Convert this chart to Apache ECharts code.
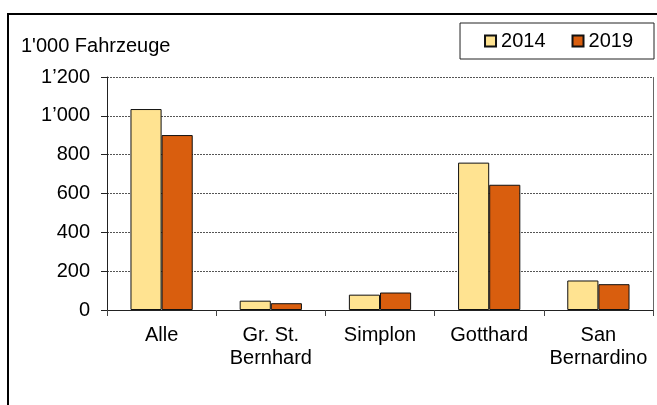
<!DOCTYPE html>
<html>
<head>
<meta charset="utf-8">
<script src="https://cdn.jsdelivr.net/npm/echarts@6/dist/echarts.min.js"></script>
<style>
  html, body { margin: 0; padding: 0; background: #fff; }
  #chart { width: 657px; height: 405px; }
</style>
</head>
<body>
<div id="chart"></div>
<script>
// Alpenübergänge, Fahrzeuge in Tausend
const passes = ['Alle', 'Gr. St.\nBernhard', 'Simplon', 'Gotthard', 'San\nBernardino'];
const years = ['2014', '2019'];
const values2014 = [1035, 48, 79, 759, 152];
const values2019 = [901, 35, 90, 645, 133];

const FONT = '"Liberation Sans", Arial, sans-serif';
const COLORS = ['#FFE391', '#D95E0E'];

const chart = echarts.init(document.getElementById('chart'));

// Tausendertrennzeichen wie im Original: 1’000
function thousands(v) {
  return String(v).replace(/\B(?=(\d{3})+(?!\d))/g, '\u2019');
}

chart.setOption({
  animation: false,
  title: {
    text: "1'000 Fahrzeuge",
    left: 21,
    top: 36,
    padding: 0,
    textStyle: { fontFamily: FONT, fontSize: 20, fontWeight: 'normal', color: '#000' }
  },
  legend: {
    data: years,
    orient: 'horizontal',
    right: 3,
    top: 23,
    padding: [8, 21, 8, 24],
    itemWidth: 11,
    itemHeight: 11,
    itemGap: 26,
    icon: 'rect',
    borderColor: '#222',
    borderWidth: 1,
    textStyle: { fontFamily: FONT, fontSize: 20, color: '#000' }
  },
  grid: { left: 107, right: 4, top: 77, bottom: 95 },
  xAxis: {
    type: 'category',
    data: passes,
    axisLine: { lineStyle: { color: '#222', width: 1 } },
    axisTick: { show: true, length: 6, lineStyle: { color: '#444' } },
    axisLabel: {
      margin: 14,
      fontFamily: FONT,
      fontSize: 20,
      lineHeight: 23,
      color: '#000',
      interval: 0
    }
  },
  yAxis: {
    type: 'value',
    min: 0,
    max: 1200,
    interval: 200,
    axisLine: { show: true, lineStyle: { color: '#222', width: 1 } },
    axisTick: { show: true, length: 6, lineStyle: { color: '#222' } },
    axisLabel: {
      margin: 17,
      fontFamily: FONT,
      fontSize: 20,
      color: '#000',
      formatter: thousands
    },
    splitLine: { lineStyle: { color: '#555', type: [2, 1], width: 1 } }
  },
  series: [
    {
      name: years[0],
      type: 'bar',
      data: values2014,
      barGap: '0%',
      barCategoryGap: '43%',
      itemStyle: { color: COLORS[0], borderColor: '#111', borderWidth: 1 }
    },
    {
      name: years[1],
      type: 'bar',
      data: values2019,
      itemStyle: { color: COLORS[1], borderColor: '#111', borderWidth: 1 }
    }
  ],
  graphic: [
    // äusserer Rahmen
    {
      type: 'rect',
      shape: { x: 8, y: 14, width: 700, height: 500 },
      style: { fill: null, stroke: '#000', lineWidth: 2 },
      silent: true
    },
    // rechter Rand der Zeichnungsfläche
    {
      type: 'line',
      shape: { x1: 653.5, y1: 77, x2: 653.5, y2: 316 },
      style: { stroke: '#666', lineWidth: 1 },
      silent: true
    }
  ]
});
</script>
</body>
</html>
